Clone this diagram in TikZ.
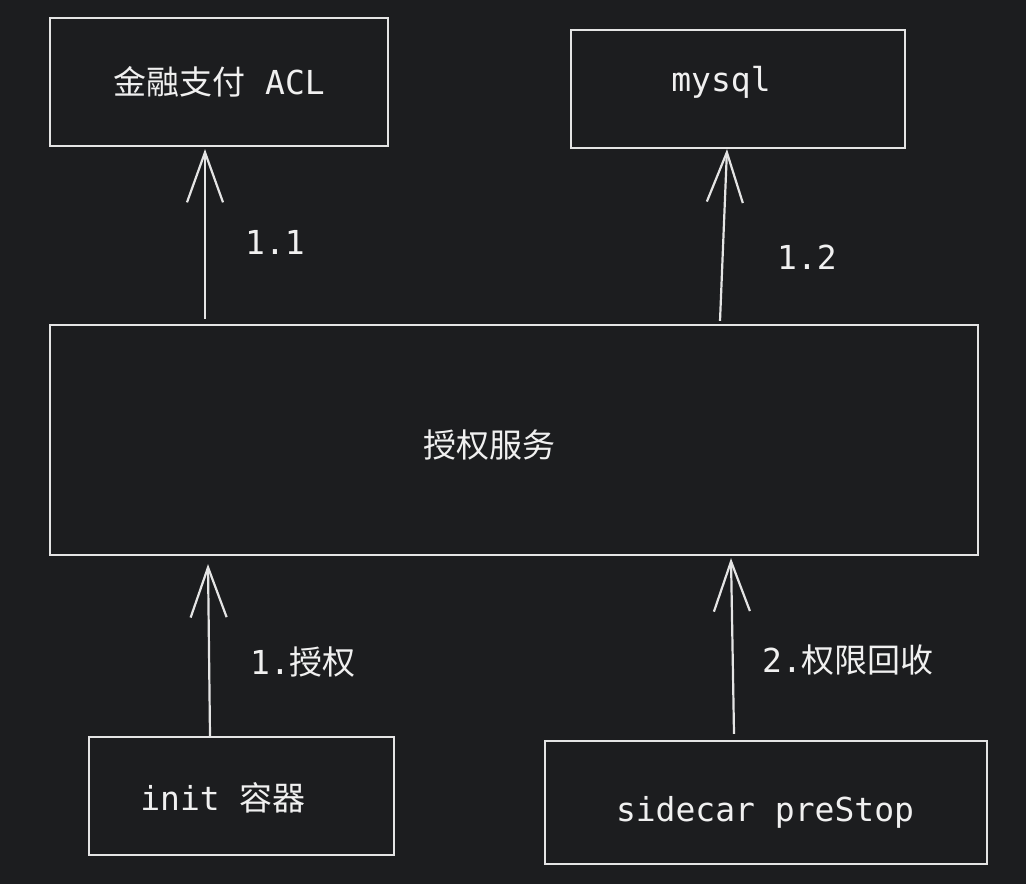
\documentclass[tikz,border=0pt]{standalone}
\usepackage{fontspec}
\setmonofont{DejaVu Sans Mono}
\newfontfamily\cjk{Noto Sans CJK SC}
\usepackage{xcolor}
\usepackage{tikz}
\usetikzlibrary{calc, arrows.meta, positioning}

\definecolor{bgdark}{HTML}{1C1D1F}
\definecolor{ink}{HTML}{E4E4E4}
\definecolor{inktext}{HTML}{F0F0F0}
\newcommand{\zh}[1]{{\cjk #1}}

\tikzset{
    box/.style={draw=ink, line width=1.1pt, rectangle, inner sep=0pt},
    txt/.style={text=inktext, font=\fontsize{16.5}{20}\selectfont\ttfamily},
    arr/.style={draw=ink, line width=1.1pt, -{Straight Barb[length=25pt, width=18pt, line width=1.1pt]}}
}

\begin{document}
\begin{tikzpicture}[x=0.5pt, y=-0.5pt]
    \fill[bgdark] (0,0) rectangle (1026,884);
    \useasboundingbox (0,0) rectangle (1026,884);

    % 1. Boxes
    \node[box, minimum width=169pt, minimum height=64pt] (acl) at (219,82) {};
    \node[box, minimum width=167pt, minimum height=59pt] (mysql) at (738,89) {};
    \node[box, minimum width=464pt, minimum height=115pt] (auth) at (514,440) {};
    \node[box, minimum width=152.5pt, minimum height=59pt] (init) at (241.5,796) {};
    \node[box, minimum width=221pt, minimum height=61.5pt] (sidecar) at (766,802.5) {};

    % 2. Texts
    \node[txt] (acl-t) at (219,82) {\zh{金融支付} ACL};
    \node[txt] (mysql-t) at (721,82) {mysql};
    \node[txt] (auth-t) at (489,445) {\zh{授权服务}};
    \node[txt] (init-t) at (223,798) {init \zh{容器}};
    \node[txt] (sidecar-t) at (765,812) {sidecar preStop};

    % 3. Arrows
    \draw[arr] ($(auth.north)+(-309,-5)$) -- ($(acl.south)+(-14,2)$);
    \draw[arr] ($(auth.north)+(206,-3)$) -- ($(mysql.south)+(-11,0)$);
    \draw[arr] ($(init.north)+(-31.5,0)$) -- ($(auth.south)+(-306,8)$);
    \draw[arr] ($(sidecar.north)+(-32,-6)$) -- ($(auth.south)+(217,2)$);

    % 4. Labels
    \node[txt] (l11) at (275,242) {1.1};
    \node[txt] (l12) at (807,257) {1.2};
    \node[txt] (l1) at (303,662) {1.\zh{授权}};
    \node[txt] (l2) at (848,660) {2.\zh{权限回收}};
\end{tikzpicture}
\end{document}
